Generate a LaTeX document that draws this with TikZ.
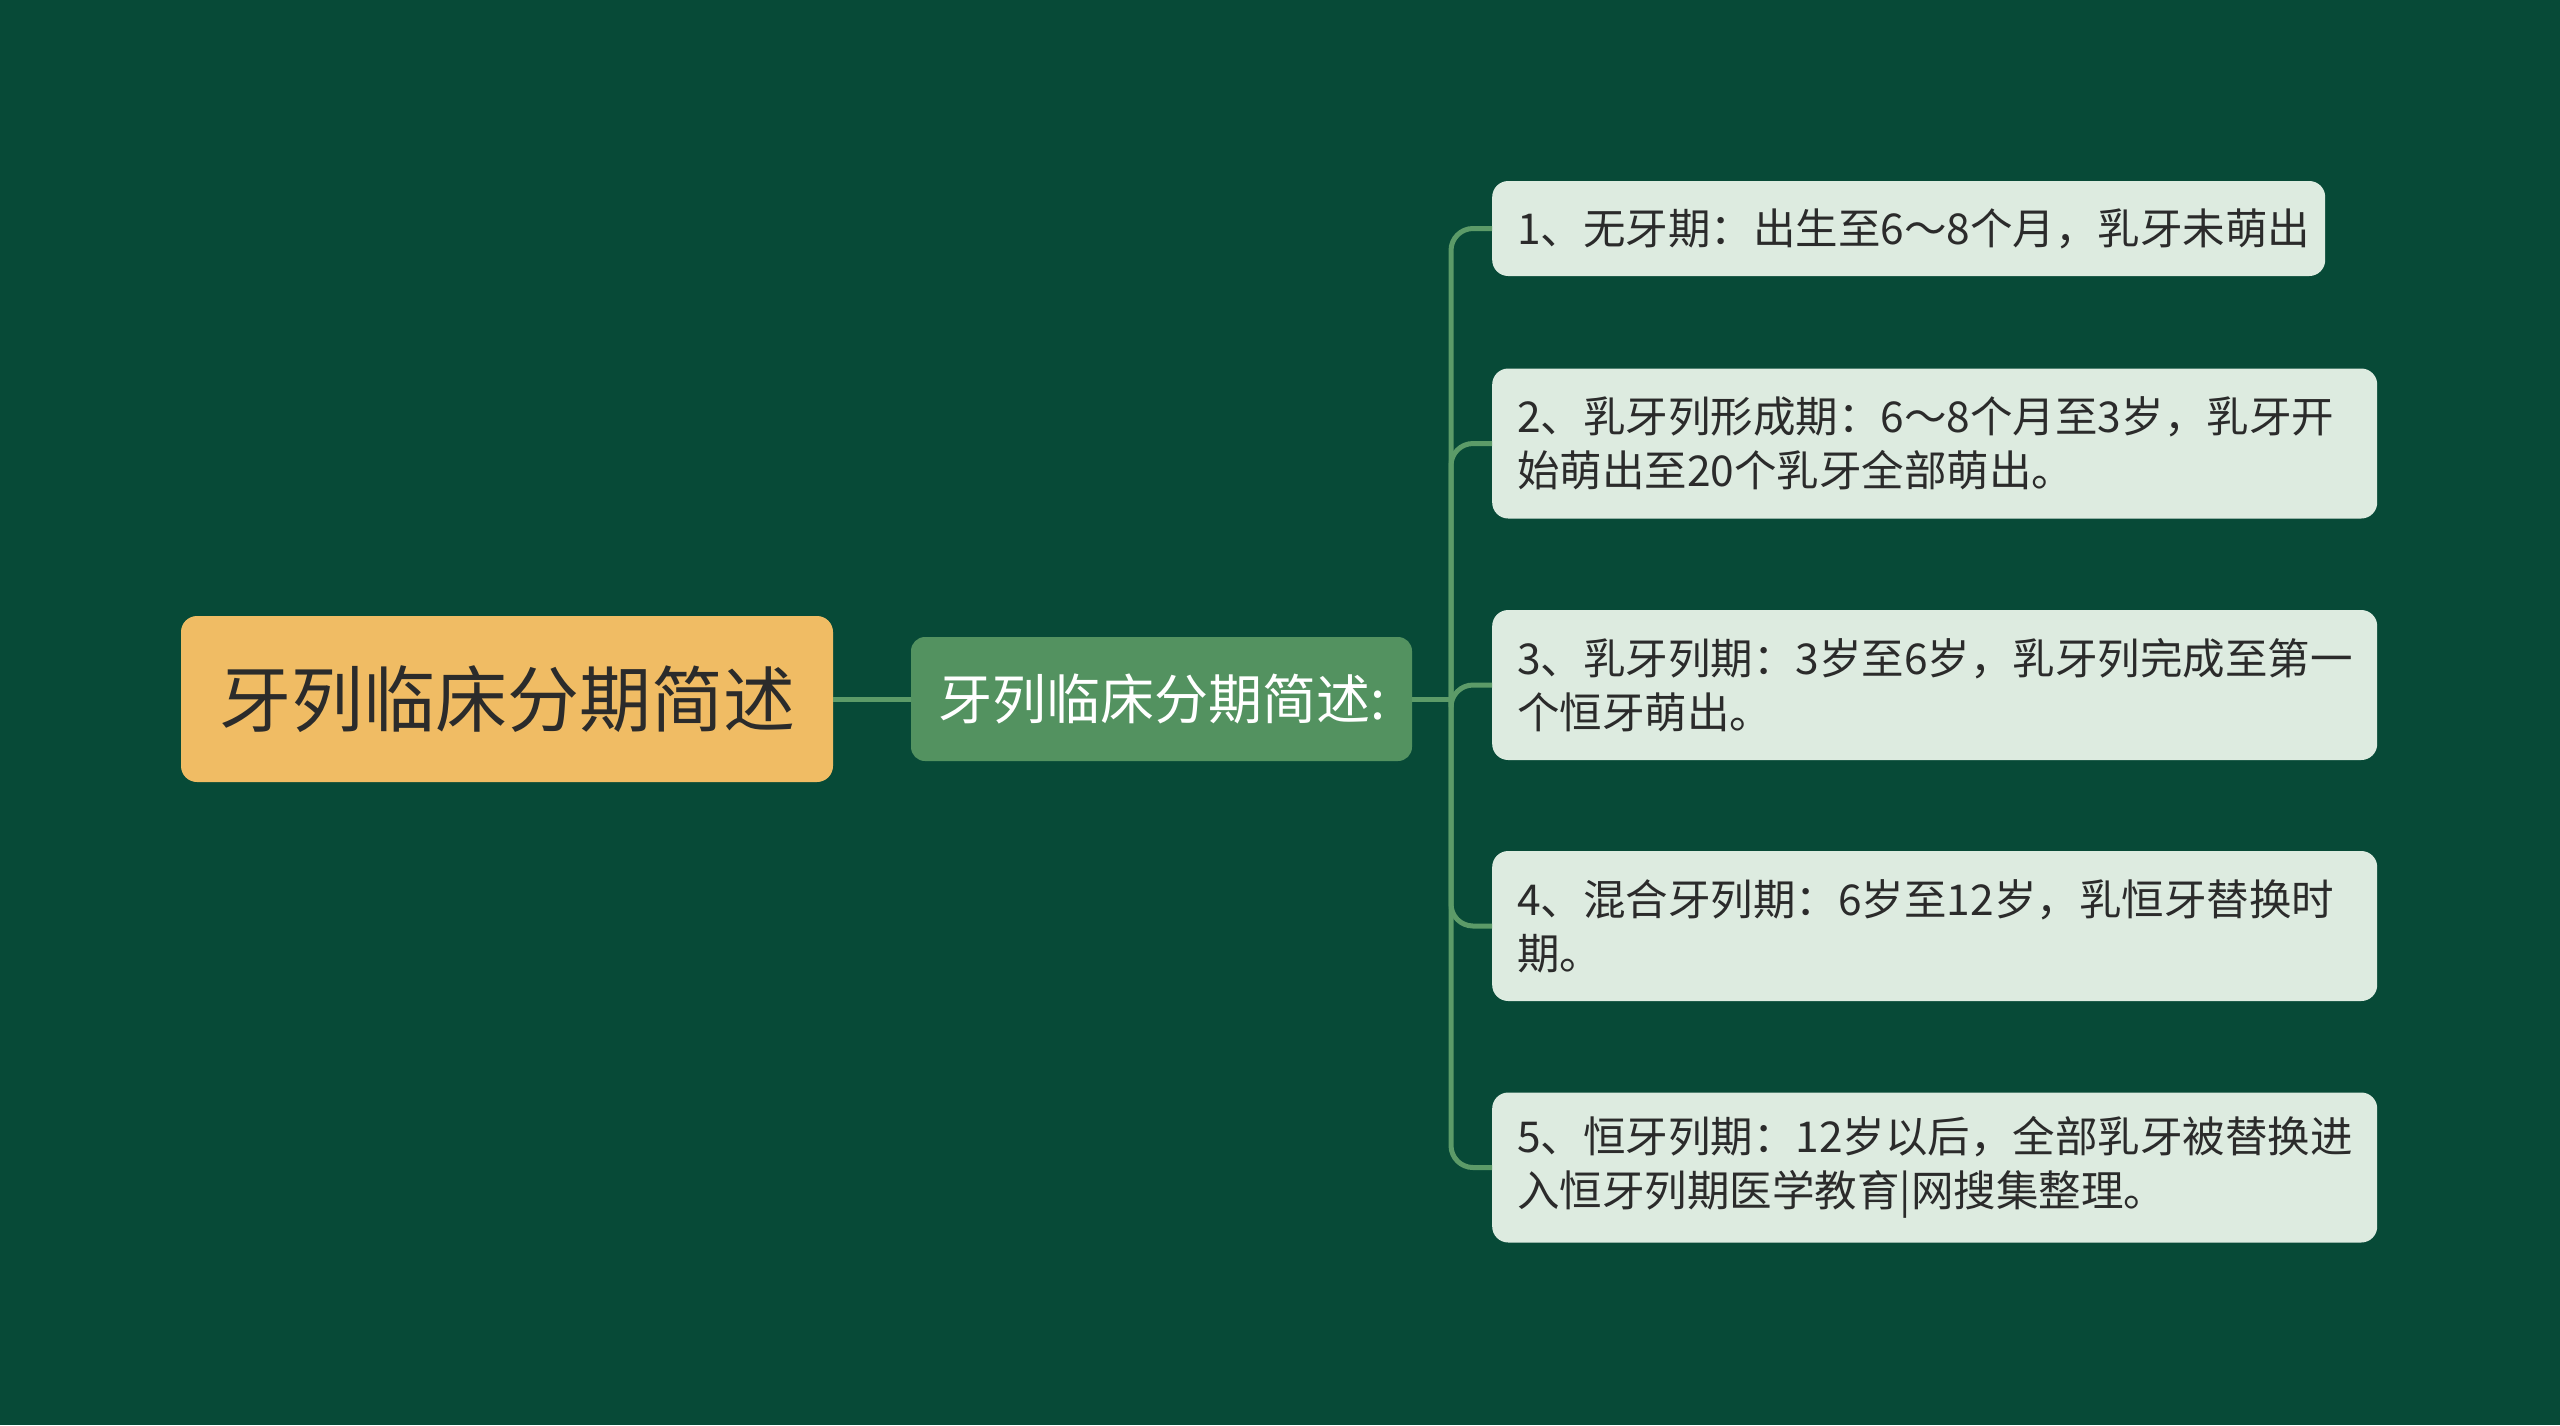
\documentclass[tikz,border=0pt]{standalone}
\usepackage{fontspec}
\newfontfamily\cjk{Noto Sans CJK SC}
\definecolor{bgc}{HTML}{074A37}
\definecolor{rootc}{HTML}{F0BC64}
\definecolor{midc}{HTML}{539260}
\definecolor{leafc}{HTML}{DDEBE0}
\definecolor{connc}{HTML}{5C9B68}
\definecolor{darktext}{HTML}{2B2B2B}
\tikzset{
  rootbox/.style={fill=rootc, rounded corners=16pt, minimum width=652pt, minimum height=166pt, inner sep=0pt, text=darktext, font=\cjk\fontsize{72}{86}\selectfont},
  midbox/.style={fill=midc, rounded corners=14pt, minimum width=501pt, minimum height=124pt, inner sep=0pt, text=white, font=\cjk\fontsize{54}{64}\selectfont},
  leafbox/.style={fill=leafc, rounded corners=16pt, anchor=west, inner xsep=25pt, inner ysep=0pt, align=left, text=darktext, font=\cjk\fontsize{42.5}{54}\selectfont},
  conn/.style={draw=connc, line width=5pt, rounded corners=22pt}
}
\begin{document}
\begin{tikzpicture}[x=1pt,y=-1pt]
\fill[bgc] (0,0) rectangle (2560,1425);
\useasboundingbox (0,0) rectangle (2560,1425);

\node[rootbox] (root) at (507,699) {牙列临床分期简述};
\node[midbox] (mid) at (1161.5,699) {牙列临床分期简述:};

\node[leafbox, minimum width=833pt, minimum height=95pt, text width=783pt] (l1) at (1492,228.5) {1、无牙期：出生至6～8个月，乳牙未萌出};
\node[leafbox, minimum width=885pt, minimum height=150pt, text width=835pt] (l2) at (1492,443.5) {2、乳牙列形成期：6～8个月至3岁，乳牙开\\始萌出至20个乳牙全部萌出。};
\node[leafbox, minimum width=885pt, minimum height=150pt, text width=835pt] (l3) at (1492,685) {3、乳牙列期：3岁至6岁，乳牙列完成至第一\\个恒牙萌出。};
\node[leafbox, minimum width=885pt, minimum height=150pt, text width=835pt] (l4) at (1492,926) {4、混合牙列期：6岁至12岁，乳恒牙替换时\\期。};
\node[leafbox, minimum width=885pt, minimum height=150pt, text width=835pt] (l5) at (1492,1167.5) {5、恒牙列期：12岁以后，全部乳牙被替换进\\入恒牙列期医学教育|网搜集整理。};

\coordinate (j) at (1451,699);
\draw[conn] (root.east) -- (mid.west);
\draw[conn] (mid.east) -- (j);
\foreach \n in {l1,l2,l3,l4,l5} {
  \draw[conn] (j) |- (\n.west);
}
\end{tikzpicture}
\end{document}
